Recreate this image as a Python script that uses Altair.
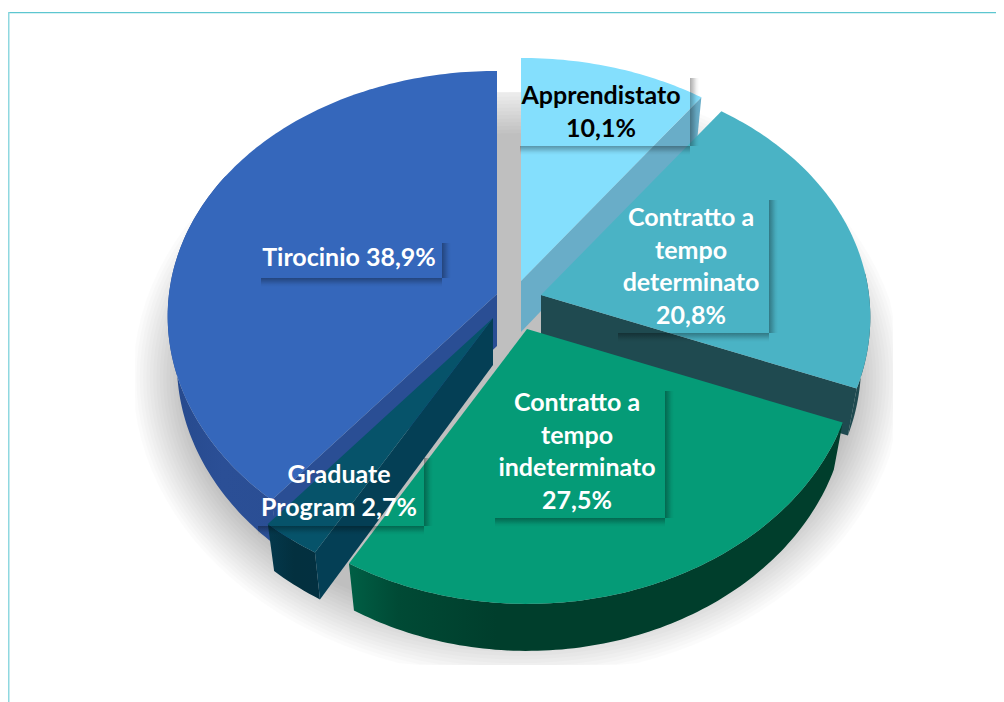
import math
import altair as alt

# ---- chart values -------------------------------------------------------
CATEGORIES = ["Apprendistato", "Contratto a tempo determinato",
              "Contratto a tempo indeterminato", "Graduate Program", "Tirocinio"]
SHARES = [10.1, 20.8, 27.5, 2.7, 38.9]
LABEL_LINES = [["Apprendistato", "10,1%"],
               ["Contratto a", "tempo", "determinato", "20,8%"],
               ["Contratto a", "tempo", "indeterminato", "27,5%"],
               ["Graduate", "Program 2,7%"],
               ["Tirocinio 38,9%"]]
LABEL_COLORS = ["#000000", "#ffffff", "#ffffff", "#ffffff", "#ffffff"]

# ---- styling / layout ---------------------------------------------------
TOP_COLORS = ["#84DFFD", "#4AB3C5", "#059B77", "#06536A", "#3567BB"]
APEX = [(521, 281), (541, 295), (527, 329), (493, 318), (497, 294)]
BOXES = [(515, 73, 690, 146), (613, 195, 769, 333), (490, 386, 665, 518),
         (253, 453, 424, 526), (256, 238, 442, 278)]
LABEL_X = [601, 691, 577, 339, 349]
LABEL_Y = [96, 218, 403, 475, 258]
LINE_STEP = 32.7
RX, RY, KX, KY = 328, 249, 0.09, 0.104
DEPTH, SHRINK = 47, 0.028
FONT = "Lato"
PAGE_W, PAGE_H = 996, 702


def project(apex, deg):
    t = math.radians(deg)
    sx, cy = math.sin(t), math.cos(t)
    return [apex[0] + RX * sx * (1 - KX * cy), apex[1] - RY * cy * (1 - KY * cy)]


def lower(apex, p, depth=DEPTH):
    return [p[0] + (apex[0] - p[0]) * SHRINK, p[1] + depth]


def arc(apex, d0, d1):
    n = max(2, int(abs(d1 - d0)))
    return [project(apex, d0 + (d1 - d0) * i / n) for i in range(n + 1)]


def poly(points):
    ring = [list(p) for p in points]
    ring.append(ring[0])
    return {"type": "Feature", "properties": {},
            "geometry": {"type": "Polygon", "coordinates": [ring]}}


def shape(points, fill, opacity=None):
    kw = {"fill": fill, "filled": True, "strokeWidth": 0}
    if opacity is not None:
        kw["opacity"] = opacity
    return (alt.Chart(alt.Data(values=[poly(points)]))
            .mark_geoshape(**kw)
            .project(type="identity", scale=1, translate=[-8, -8]))


def hgrad(stops):
    return alt.Gradient(gradient="linear", x1=0, x2=1, y1=0, y2=0,
                        stops=[alt.GradientStop(offset=o, color=c) for o, c in stops])


def vgrad(stops):
    return alt.Gradient(gradient="linear", x1=0, x2=0, y1=0, y2=1,
                        stops=[alt.GradientStop(offset=o, color=c) for o, c in stops])


edges = [0.0]
for s in SHARES:
    edges.append(edges[-1] + s * 3.6)

layers = []

# full sheet: pins the projection's fit to the page rectangle
layers.append(shape([[8, 8], [PAGE_W, 8], [PAGE_W, PAGE_H], [8, PAGE_H]], "#ffffff"))

# soft shadow behind the pie, cut off by its rectangular bitmap edge
N = 16
for i in range(N):
    f = i / (N - 1)
    ax, ay = 385 - 50 * f, 300 - 55 * f
    pts = []
    for d in range(0, 360, 3):
        x = 518 + ax * math.sin(math.radians(d))
        y = 378 - ay * math.cos(math.radians(d))
        pts.append([min(max(x, 135), 893), min(max(y, 92), 665)])
    layers.append(shape(pts, "#000000", 0.0146))

# thin frame of the picture
layers.append(shape([[8, 12], [PAGE_W, 12], [PAGE_W, 13.2], [8, 13.2]], "#5CC6D0"))
layers.append(shape([[8, 12], [9.5, 12], [9.5, PAGE_H], [8, PAGE_H]], "#8FD8E0"))

wedge = lambda i: [APEX[i]] + arc(APEX[i], edges[i], edges[i + 1])


def inner_wall(i, deg, fill, depth=DEPTH):
    p = project(APEX[i], deg)
    a = APEX[i]
    return shape([a, p, lower(a, p, depth), [a[0], a[1] + depth]], fill)


def outer_wall(i, d0, d1, fill):
    a = APEX[i]
    top = arc(a, d0, d1)
    return shape(top + [lower(a, p) for p in reversed(top)], fill)


# Apprendistato
layers.append(inner_wall(0, edges[1], "#69ADC8", 51))
layers.append(shape(wedge(0), TOP_COLORS[0]))
# Contratto a tempo determinato
layers.append(outer_wall(1, 85, edges[2], "#1F4A50"))
layers.append(inner_wall(1, edges[2], "#1F4A50"))
layers.append(shape(wedge(1), TOP_COLORS[1]))
# Tirocinio
layers.append(outer_wall(4, edges[4], 300,
                         hgrad([(0, "#26498C"), (0.5, "#2B4F96"), (1, "#2A4E94")])))
layers.append(inner_wall(4, edges[4], "#2A4E94", 52))
layers.append(shape(wedge(4), TOP_COLORS[4]))
# Graduate Program
layers.append(outer_wall(3, edges[3], edges[4],
                         hgrad([(0, "#04384C"), (0.5, "#03303F"), (1, "#033040")])))
layers.append(inner_wall(3, edges[3], "#043F55", 47))
layers.append(shape(wedge(3), TOP_COLORS[3]))
# Contratto a tempo indeterminato
layers.append(outer_wall(2, edges[2], edges[3],
                         hgrad([(0, "#005F45"), (0.1, "#004A35"), (0.3, "#003E2C"), (1, "#003E2C")])))
layers.append(shape(wedge(2), TOP_COLORS[2]))

# label boxes: only their drop shadows show
SH = 9
STOPS = [(0, 0.33), (0.35, 0.2), (0.7, 0.06), (1, 0)]
fade = [(o, f"rgba(0,0,0,{a})") for o, a in STOPS]
for x1, y1, x2, y2 in BOXES:
    layers.append(shape([[x2, y1 + 5], [x2 + SH, y1 + 5], [x2 + SH, y2], [x2, y2]], hgrad(fade)))
    layers.append(shape([[x1 + 5, y2], [x2, y2], [x2, y2 + SH], [x1 + 5, y2 + SH]], vgrad(fade)))

# labels
rows = []
for i, lines in enumerate(LABEL_LINES):
    for j, line in enumerate(lines):
        rows.append({"t": line, "lon": LABEL_X[i], "lat": LABEL_Y[i] + j * LINE_STEP,
                     "c": LABEL_COLORS[i]})
layers.append(
    alt.Chart(alt.Data(values=rows))
    .mark_text(font=FONT, fontWeight="bold", fontSize=25, baseline="middle", align="center")
    .encode(longitude="lon:Q", latitude="lat:Q", text="t:N",
            color=alt.Color("c:N", scale=None))
    .project(type="identity", scale=1, translate=[-8, -8])
)

chart = (
    alt.layer(*layers)
    .properties(width=PAGE_W - 8, height=PAGE_H - 8, padding=0, background="#ffffff")
    .configure_view(stroke=None)
)
chart.save("out.html", embed_options={"renderer": "svg", "actions": False})
